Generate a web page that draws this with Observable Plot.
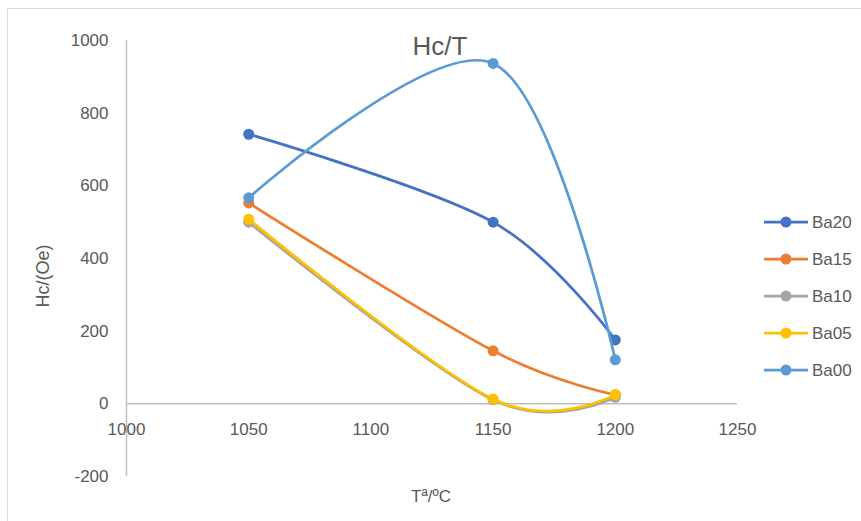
<!DOCTYPE html>
<html><head><meta charset="utf-8">
<script src="https://cdn.jsdelivr.net/npm/d3@7"></script>
<script src="https://cdn.jsdelivr.net/npm/@observablehq/plot@0.6"></script>
<style>
body{margin:0;background:#fff;overflow:hidden;font-family:"Liberation Sans",Arial,sans-serif}
#wrap{position:relative;width:861px;height:521px;overflow:hidden}
#frame{position:absolute;left:7px;top:8px;width:900px;height:600px;border:1.5px solid #d9d9d9;box-sizing:border-box}
#wrap svg{position:absolute;left:0;top:0}
</style></head><body><div id="wrap"><div id="frame"></div></div>
<script>
const temperatures = [1050, 1150, 1200];
const seriesNames = ["Ba20", "Ba15", "Ba10", "Ba05", "Ba00"];
const ba20 = [742, 500, 176];
const ba15 = [553, 146, 25];
const ba10 = [500, 11, 18];
const ba05 = [508, 13, 25];
const ba00 = [567, 937, 121];
const xTicks = [1000, 1050, 1100, 1150, 1200, 1250];
const yTicks = [-200, 0, 200, 400, 600, 800, 1000];
const titleText = "Hc/T";
const xLabel = "Tª/ºC";
const yLabel = "Hc/(Oe)";

const seriesValues = [ba20, ba15, ba10, ba05, ba00];
const colors = ["#4472C4", "#ED7D31", "#A5A5A5", "#FFC000", "#5B9BD5"];
const textColor = "#595959";
const font = "'Liberation Sans', Arial, sans-serif";

const seriesMarks = [];
seriesValues.forEach((vals, i) => {
  const rows = temperatures.map((t, j) => ({t, v: vals[j], s: seriesNames[i]}));
  seriesMarks.push(
    Plot.line(rows, {x: "t", y: "v", stroke: colors[i], strokeWidth: 2.75, curve: "cardinal"}),
    Plot.dot(rows, {x: "t", y: "v", r: 5.5, fill: colors[i], stroke: "none"})
  );
});

const chart = Plot.plot({
  width: 861, height: 521,
  marginLeft: 126, marginRight: 124, marginTop: 40, marginBottom: 45,
  x: {domain: [1000, 1250], axis: null},
  y: {domain: [-200, 1000], axis: null},
  style: {background: "transparent", fontFamily: font, fontSize: "17px", color: textColor, overflow: "visible"},
  marks: [
    Plot.ruleX([1000], {y1: -200, y2: 1000, stroke: "#bfbfbf", strokeWidth: 1.5}),
    Plot.ruleY([0], {x1: 1000, x2: 1250, stroke: "#bfbfbf", strokeWidth: 1.5}),
    Plot.text(yTicks, {x: () => 1000, y: d => d, text: d => String(d), textAnchor: "end", dx: -18, fill: textColor, fontSize: 17}),
    Plot.text(xTicks, {x: d => d, y: () => 0, text: d => String(d), dy: 26, fill: textColor, fontSize: 17}),
    ...seriesMarks
  ]
});
document.getElementById("wrap").appendChild(chart);

const svg = d3.select(chart);
svg.append("text").attr("x", 440).attr("y", 55).attr("text-anchor", "middle")
  .attr("font-family", font).attr("font-size", 26).attr("fill", textColor).text(titleText);
svg.append("text").attr("x", 431).attr("y", 502).attr("text-anchor", "middle")
  .attr("font-family", font).attr("font-size", 17).attr("fill", textColor).text(xLabel);
svg.append("text").attr("transform", "translate(49,276) rotate(-90)").attr("text-anchor", "middle")
  .attr("font-family", font).attr("font-size", 18).attr("fill", textColor).text(yLabel);

const legend = svg.append("g");
seriesNames.forEach((name, i) => {
  const cy = 222 + i * 37;
  legend.append("line").attr("x1", 764).attr("x2", 808).attr("y1", cy).attr("y2", cy)
    .attr("stroke", colors[i]).attr("stroke-width", 2.75);
  legend.append("circle").attr("cx", 786).attr("cy", cy).attr("r", 5.5).attr("fill", colors[i]);
  legend.append("text").attr("x", 812).attr("y", cy).attr("dy", "0.36em").attr("text-anchor", "start")
    .attr("font-family", font).attr("font-size", 17).attr("fill", textColor).text(name);
});
</script>
</body></html>
